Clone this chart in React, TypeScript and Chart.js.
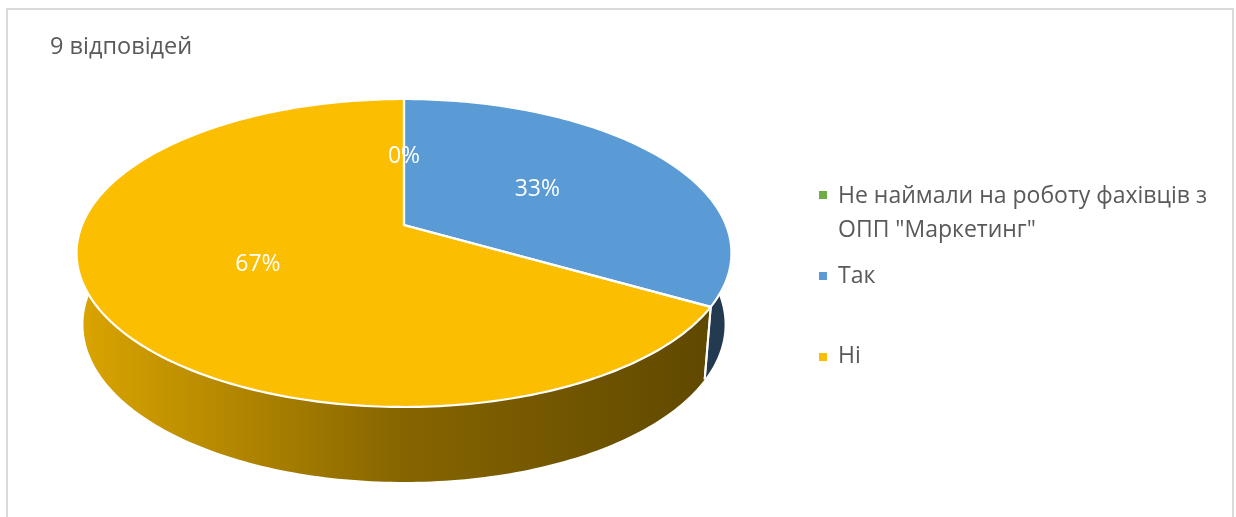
import React, { useEffect, useRef } from "react";
import { Chart, registerables } from "chart.js";

Chart.register(...registerables);

// ---------- data ----------
const categories = ['Не наймали на роботу фахівців з ОПП "Маркетинг"', "Так", "Ні"];
const legendLines = [["Не наймали на роботу фахівців з", 'ОПП "Маркетинг"'], ["Так"], ["Ні"]];
const values = [0, 3, 6];
const sliceColors = ["#70AD47", "#5B9BD5", "#FCBE00"];
const titleText = "9 відповідей";

// ---------- geometry / style of the 3D projection ----------
const G = {
  cx: 404,
  cy: 225,
  rx: 322,
  ay: 108,
  c: -0.1818,
  depth: 70,
  depthV: 5,
  bdx: -7,
  labelR: 0.5,
};
const FONT = '"Open Sans", "DejaVu Sans", sans-serif';

function hexToRgb(h: string) {
  const n = parseInt(h.slice(1), 16);
  return [(n >> 16) & 255, (n >> 8) & 255, n & 255];
}
function shade(h: string, f: number) {
  const [r, g, b] = hexToRgb(h);
  return `rgb(${Math.round(r * f)},${Math.round(g * f)},${Math.round(b * f)})`;
}
function topPt(u: number, v: number) {
  const den = 1 + G.c * v;
  return { x: G.cx + (G.rx * u) / den, y: (G.ay * v + G.cy) / den };
}
function topAt(a: number, r = 1) {
  return topPt(Math.cos(a) * r, Math.sin(a) * r);
}
function botAt(a: number) {
  const t = topAt(a);
  const u = Math.cos(a);
  const v = Math.sin(a);
  return { x: t.x + G.bdx * u, y: t.y + G.depth + G.depthV * v };
}

const pie3d = {
  id: "pie3d",
  beforeDraw(chart: any) {
    const ctx = chart.ctx;
    ctx.save();
    ctx.fillStyle = "#ffffff";
    ctx.fillRect(0, 0, chart.width, chart.height);
    ctx.strokeStyle = "#D9D9D9";
    ctx.lineWidth = 2;
    ctx.strokeRect(7, 9, 1226, 600);
    ctx.restore();
  },
  beforeDatasetsDraw(chart: any) {
    const ctx = chart.ctx;
    const meta = chart.getDatasetMeta(0);
    const arcs = meta.data as any[];
    const colors = chart.data.datasets[0].backgroundColor as string[];
    const STEP = Math.PI / 180;
    ctx.save();
    // walls (front half only)
    arcs.forEach((el, i) => {
      const s = Math.max(el.startAngle, -0.1);
      const e = Math.min(el.endAngle, Math.PI + 0.1);
      if (e - s <= 1e-6) return;
      const grad = ctx.createLinearGradient(G.cx - 327, 0, G.cx + 327, 0);
      grad.addColorStop(0, shade(colors[i], 0.87));
      grad.addColorStop(0.5, shade(colors[i], 0.53));
      grad.addColorStop(1, shade(colors[i], 0.37));
      ctx.beginPath();
      const n = Math.max(2, Math.ceil((e - s) / STEP));
      for (let k = 0; k <= n; k++) {
        const p = topAt(s + ((e - s) * k) / n);
        k === 0 ? ctx.moveTo(p.x, p.y) : ctx.lineTo(p.x, p.y);
      }
      for (let k = n; k >= 0; k--) {
        const p = botAt(s + ((e - s) * k) / n);
        ctx.lineTo(p.x, p.y);
      }
      ctx.closePath();
      ctx.fillStyle = grad;
      ctx.fill();
    });
    // white separators on walls
    ctx.strokeStyle = "#ffffff";
    ctx.lineWidth = 2;
    arcs.forEach((el) => {
      [el.startAngle, el.endAngle].forEach((a: number) => {
        if (a > 0.01 && a < Math.PI - 0.01 && el.endAngle - el.startAngle > 1e-6) {
          const t = topAt(a);
          const b = botAt(a);
          ctx.beginPath();
          ctx.moveTo(t.x, t.y);
          ctx.lineTo(b.x, b.y);
          ctx.stroke();
        }
      });
    });
    // top faces
    const facePath = (s: number, e: number) => {
      ctx.beginPath();
      const c0 = topPt(0, 0);
      ctx.moveTo(c0.x, c0.y);
      const n = Math.max(2, Math.ceil((e - s) / STEP));
      for (let k = 0; k <= n; k++) {
        const p = topAt(s + ((e - s) * k) / n);
        ctx.lineTo(p.x, p.y);
      }
      ctx.closePath();
    };
    arcs.forEach((el, i) => {
      if (el.endAngle - el.startAngle <= 1e-6) return;
      facePath(el.startAngle, el.endAngle);
      ctx.fillStyle = colors[i];
      ctx.fill();
    });
    ctx.lineJoin = "round";
    ctx.lineWidth = 2.2;
    ctx.strokeStyle = "#ffffff";
    arcs.forEach((el) => {
      if (el.endAngle - el.startAngle <= 1e-6) return;
      facePath(el.startAngle, el.endAngle);
      ctx.stroke();
    });
    // labels
    const data = chart.data.datasets[0].data as number[];
    const total = data.reduce((a: number, b: number) => a + b, 0);
    ctx.fillStyle = "#ffffff";
    ctx.font = `23px ${FONT}`;
    ctx.textAlign = "center";
    ctx.textBaseline = "middle";
    arcs.forEach((el, i) => {
      const mid = (el.startAngle + el.endAngle) / 2;
      const p = topAt(mid, G.labelR);
      ctx.fillText(Math.round((data[i] / total) * 100) + "%", p.x, p.y);
    });
    ctx.restore();
    return false;
  },
  afterDraw(chart: any) {
    const ctx = chart.ctx;
    const colors = chart.data.datasets[0].backgroundColor as string[];
    const squares = [191, 272, 353];
    const baselines = [[203, 237], [283], [363]];
    ctx.save();
    ctx.font = `23px ${FONT}`;
    ctx.textAlign = "left";
    ctx.textBaseline = "alphabetic";
    legendLines.forEach((lines, i) => {
      ctx.fillStyle = colors[i];
      ctx.fillRect(819, squares[i], 8, 8);
      ctx.fillStyle = "#595959";
      lines.forEach((t, j) => ctx.fillText(t, 838, baselines[i][j]));
    });
    ctx.restore();
  },
};

export default function App() {
  const ref = useRef<HTMLCanvasElement | null>(null);
  useEffect(() => {
    document.body.style.margin = "0";
    if (!ref.current) return;
    const chart = new Chart(ref.current, {
      type: "pie",
      data: {
        labels: categories,
        datasets: [{ data: values, backgroundColor: sliceColors, borderColor: "#ffffff" }],
      },
      options: {
        responsive: false,
        animation: false,
        layout: { padding: { left: 50, top: 0 } },
        plugins: {
          legend: { display: false },
          tooltip: { enabled: false },
          title: {
            display: true,
            text: titleText,
            align: "start",
            color: "#595959",
            font: { family: FONT, size: 23.5, weight: "normal" },
            padding: { top: 33, bottom: 10 },
          },
        },
      },
      plugins: [pie3d],
    });
    return () => chart.destroy();
  }, []);
  return (
    <div style={{ width: 1236, height: 517 }}>
      <canvas ref={ref} width={1236} height={517} />
    </div>
  );
}
